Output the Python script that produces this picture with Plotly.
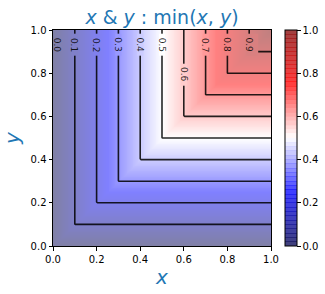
import numpy as np
import plotly.graph_objects as go

# ---------------- data ----------------
N = 256
xs = np.linspace(0.0, 1.0, N)
ys = np.linspace(0.0, 1.0, N)
Z = np.minimum(xs[None, :], ys[:, None])          # min(x, y)

levels = [0.0, 0.1, 0.2, 0.3, 0.4, 0.5, 0.6, 0.7, 0.8, 0.9]
label_text = ["0.0", "0.1", "0.2", "0.3", "0.4", "0.5", "0.6", "0.7", "0.8", "0.9"]
label_y = [0.932, 0.932, 0.932, 0.932, 0.932, 0.932, 0.793, 0.932, 0.932, 0.932]

tick_vals = [0.0, 0.2, 0.4, 0.6, 0.8, 1.0]
tick_text = ["0.0", "0.2", "0.4", "0.6", "0.8", "1.0"]

# ---------------- colours (matplotlib 'seismic') ----------------
SEISMIC = [(0.0, (0.0, 0.0, 0.3)), (0.25, (0.0, 0.0, 1.0)), (0.5, (1.0, 1.0, 1.0)),
           (0.75, (1.0, 0.0, 0.0)), (1.0, (0.5, 0.0, 0.0))]


def seismic(v):
    for (p0, c0), (p1, c1) in zip(SEISMIC[:-1], SEISMIC[1:]):
        if v <= p1:
            t = (v - p0) / (p1 - p0)
            return tuple(a + (b - a) * t for a, b in zip(c0, c1))
    return SEISMIC[-1][1]


def blend(rgb, alpha):
    return tuple(255.0 * (alpha * c + 1.0 - alpha) for c in rgb)


def css(rgb):
    return "rgb(%d,%d,%d)" % tuple(int(round(c)) for c in rgb)


heat_scale = [[p, css(blend(c, 0.5))] for p, c in SEISMIC]

# banded colour bar (contourf-like, with faint seams)
NB = 50
eps = 0.0022
cb_scale = []
for i in range(NB):
    lo, hi = i / NB, (i + 1) / NB
    col = seismic((i + 0.5) / NB)
    band = css(blend(col, 0.75))
    seam = css(blend(col, 0.86))
    if i == 0:
        cb_scale.append([0.0, band])
    else:
        cb_scale.append([lo + eps, band])
    if i == NB - 1:
        cb_scale.append([1.0, band])
    else:
        cb_scale.append([hi - eps, band])
        cb_scale.append([hi - eps + 1e-6, seam])
        cb_scale.append([hi + eps - 1e-6, seam])

FONT = "DejaVu Sans"
BLUE = "#1f77b4"
LINE = "rgba(0,0,0,0.85)"

fig = go.Figure()

fig.add_trace(go.Heatmap(
    x=xs, y=ys, z=Z, zmin=0, zmax=1, colorscale=heat_scale,
    showscale=False, zsmooth="best", hoverinfo="skip"))

fig.add_trace(go.Contour(
    x=xs, y=ys, z=Z,
    contours=dict(start=levels[1], end=levels[-1], size=0.1, coloring="none"),
    line=dict(color=LINE, width=1.6, smoothing=0),
    showscale=False, hoverinfo="skip"))

fig.add_trace(go.Scatter(
    x=[None], y=[None], mode="markers", showlegend=False, hoverinfo="skip",
    marker=dict(color=[0.5], cmin=0, cmax=1, colorscale=cb_scale, showscale=True,
                colorbar=dict(x=1.064, xanchor="left", y=0.5, yanchor="middle",
                              len=1, lenmode="fraction", thickness=12,
                              xpad=0, ypad=0, outlinewidth=1, outlinecolor="black",
                              ticks="outside", ticklen=3.5, tickwidth=0.8,
                              tickcolor="black", tickvals=tick_vals, ticktext=tick_text,
                              tickfont=dict(family=FONT, size=10, color="black")))))

# contour labels with inline gaps
GAP_HALF = 11   # px along the line
shapes = []
annotations = []
for v, txt, ly in zip(levels, label_text, label_y):
    if v > 0:
        x_right = 3
        # the gap also eats the start of the horizontal branch if the corner is inside it
        if v >= ly - GAP_HALF / 216.0:
            x_right = 9
        shapes.append(dict(type="rect", xref="x", yref="y", layer="above",
                           xsizemode="pixel", ysizemode="pixel",
                           xanchor=v, yanchor=ly, x0=-3, x1=x_right,
                           y0=-GAP_HALF, y1=GAP_HALF,
                           fillcolor=css(blend(seismic(v), 0.5)),
                           line=dict(width=0)))
    annotations.append(dict(x=v, y=ly, xref="x", yref="y", text=txt, showarrow=False,
                            textangle=90, xshift=4 if v == 0 else 0,
                            font=dict(family=FONT, size=9, color="rgba(0,0,0,0.85)")))

axis_common = dict(range=[0, 1], showgrid=False, zeroline=False, showline=True,
                   mirror=True, linecolor="black", linewidth=1,
                   ticks="outside", ticklen=3.5, tickwidth=0.8, tickcolor="black",
                   tickvals=tick_vals, ticktext=tick_text,
                   tickfont=dict(family=FONT, size=10, color="black"),
                   automargin=False)

fig.update_layout(
    width=325, height=294,
    margin=dict(l=53, r=54, t=30, b=48, autoexpand=False),
    paper_bgcolor="white", plot_bgcolor="white",
    title=dict(text="<i>x</i> & <i>y</i> : min(<i>x</i>, <i>y</i>)",
               x=0.5, xref="paper", xanchor="center",
               y=1 - 17.5 / 294, yref="container", yanchor="middle",
               font=dict(family=FONT, size=19, color=BLUE)),
    xaxis=dict(axis_common, title=dict(text="<i>x</i>", standoff=6,
                                       font=dict(family=FONT, size=20, color=BLUE))),
    yaxis=dict(axis_common, title=dict(text="<i>y</i>", standoff=5,
                                       font=dict(family=FONT, size=20, color=BLUE))),
    shapes=shapes, annotations=annotations,
    showlegend=False,
)

fig.write_html("out.html")
